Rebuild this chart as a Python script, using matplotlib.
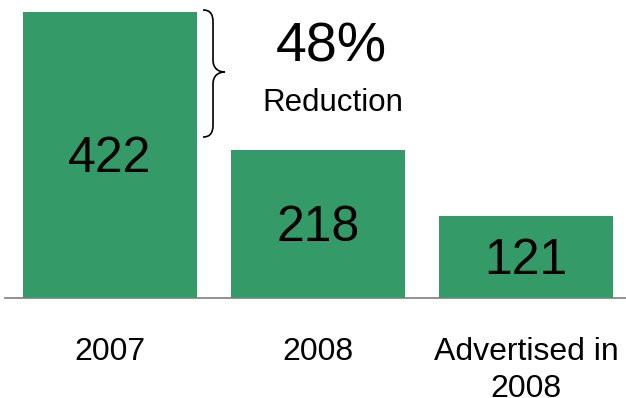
import matplotlib
matplotlib.use("Agg")
import matplotlib.pyplot as plt
from matplotlib.path import Path
from matplotlib.patches import PathPatch

categories = ["2007", "2008", "Advertised in\n2008"]
values = [422, 218, 121]
reduction_label = "48%"
reduction_caption = "Reduction"

bar_color = "#349B68"

plt.rcParams["font.family"] = ["Liberation Sans", "DejaVu Sans"]

fig = plt.figure(figsize=(6.26, 3.98), dpi=100)
ax = fig.add_axes([5 / 626, 100 / 398, 621 / 626, 298 / 398])

x = list(range(len(categories)))
ax.bar(x, values, width=0.837, color=bar_color, zorder=2)

for xi, v in zip(x, values):
    ax.annotate(str(v), (xi, v / 2), xytext=(0, -3), textcoords="offset points",
                ha="center", va="center", fontsize=36, color="black")

ax.set_xlim(-0.505, 2.481)
ax.set_ylim(0, 422 * 298 / 286)

ax.set_xticks(x)
ax.set_xticklabels(categories, fontsize=23, linespacing=1.3)
ax.tick_params(axis="x", length=0, pad=28)
ax.set_yticks([])
for side in ("left", "right", "top"):
    ax.spines[side].set_visible(False)
ax.spines["bottom"].set_color("#7f7f7f")
ax.spines["bottom"].set_linewidth(1.2)


# curly brace beside the first bar, spanning the reduction
def px2data(px, py):
    return ((px - 110) / 208, (298 - py) * 422 / 286)


brace_px = [
    (203, 10),
    (210, 10), (213, 14), (213, 22),
    (213, 60),
    (213, 68), (218, 72), (225, 72),
    (218, 72), (213, 76), (213, 84),
    (213, 125),
    (213, 133), (210, 137), (203, 137),
]
codes = [Path.MOVETO,
         Path.CURVE4, Path.CURVE4, Path.CURVE4,
         Path.LINETO,
         Path.CURVE4, Path.CURVE4, Path.CURVE4,
         Path.CURVE4, Path.CURVE4, Path.CURVE4,
         Path.LINETO,
         Path.CURVE4, Path.CURVE4, Path.CURVE4]
verts = [px2data(*p) for p in brace_px]
ax.add_patch(PathPatch(Path(verts, codes), facecolor="none", edgecolor="black",
                       lw=1.2, clip_on=False, zorder=3))

tx, ty = px2data(331, 47)
ax.text(tx, ty, reduction_label, ha="center", va="center", fontsize=40)
tx, ty = px2data(333, 103)
ax.text(tx, ty, reduction_caption, ha="center", va="center", fontsize=22.5)

fig.savefig("out.png", dpi=100)
